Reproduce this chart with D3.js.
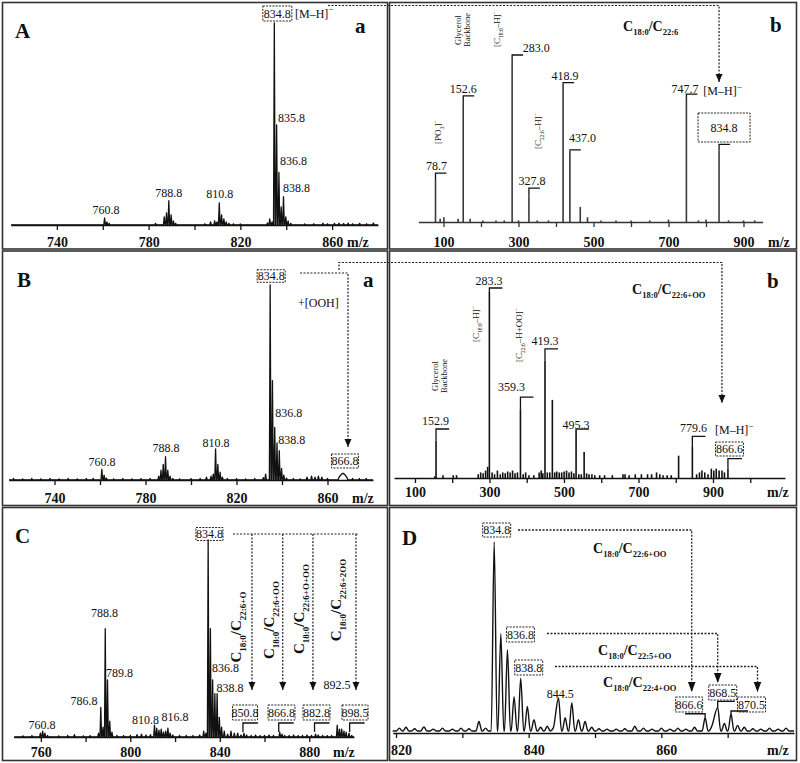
<!DOCTYPE html>
<html><head><meta charset="utf-8">
<script src="https://cdn.jsdelivr.net/npm/d3@7/dist/d3.min.js"></script>
<style>
html,body{margin:0;padding:0;background:#fff}
svg{display:block}
</style></head><body>
<script>
// ===================== DATA =====================
const ticksA = [740,760,780,800,820,840,860];
const tickLabelsA = [740,780,820,860];
const ticksAb = [100,200,300,400,500,600,700,800,900];
const ticksBb = [100,200,300,400,500,600,700,800,900,1000];
const tickLabelsMSMS = [100,300,500,700,900];
const ticksC = [760,780,800,820,840,860,880];
const tickLabelsC = [760,800,840,880];
const ticksD = [820,830,840,850,860,870];
const tickLabelsD = [820,840,860];

// spectra: [m/z, relative intensity %]
const peaksAa = [[760.8,3.5],[761.8,1.5],[762.8,0.8],[783.0,0.8],[786.8,4],[787.8,6],[788.8,12],[789.8,5],[790.8,2],[791.8,0.8],
 [804.5,0.6],[807.0,1.5],[808.8,2],[809.8,1.5],[810.8,11],[811.8,5],[812.8,3],[813.8,1.5],[815,0.8],[817,0.6],[820,0.5],
 [831.8,1],[832.8,3],[833.8,1.5],[834.8,100],[835.8,49.5],[836.8,26],[837.8,9],[838.8,14],[839.8,4],[840.8,2],[842,0.8],
 [848,0.5],[852,0.6],[856,0.9],[858,0.6],[861,0.8],[863,0.9],[865,0.7],[867,0.9],[869,0.6],[872,0.8],[875,0.6],[878,1]];
const peaksAb = [[78.7,26],[91,2],[101,3],[139,2],[152.6,75.5],[171,2],[205,1],[240,1],[262,1],[283.0,100],[300,1],
 [327.8,16],[350,1],[380,1],[418.9,87],[437.0,45],[464.7,9.5],[484,3],[520,1],[560,1],[600,1],[650,1],[700,1.5],
 [747.7,78.6],[780,1],[800,1.5],[834.8,45],[860,1],[900,1],[930,1]];
const peaksBa = [[722,0.8],[726,0.6],[730,0.8],[734,0.6],[738,0.8],[742,0.6],[746,0.8],[750,0.6],[754,0.7],[757,0.8],
 [760.8,5.5],[761.8,2.5],[762.8,1],[766,0.6],[770,0.7],[774,0.6],[778,0.7],[782,0.8],
 [785.8,2],[786.8,5],[787.8,8],[788.8,12],[789.8,5],[790.8,2],[792,0.8],[795,0.6],[800,0.7],[804,0.8],
 [806.8,1.5],[808.8,2],[809.8,3],[810.8,16],[811.8,8],[812.8,4],[813.8,1.5],[816,0.8],[820,0.7],[824,0.6],[828,0.8],
 [831.8,1.2],[832.8,3],[834.8,100],[835.8,51],[836.8,27],[837.8,19],[838.8,15],[839.8,6],[840.8,2.5],[842,1],
 [845,0.8],[848,0.6],[851,1.5],[853,2],[854.5,1.5],[856,2],[857.5,1.5],[860,0.8],
 [865.0,1.2],[865.6,2.2],[866.2,3.0],[866.8,3.5],[867.4,3.0],[868.0,2.2],[868.6,1.2],[871,0.8],[874,0.7],[877,0.8]];
const peaksBb = [[150,1],[152.9,20],[170,1.5],[195,1.5],[203,1.5],[256,2],[262,3],[268,2.5],[274,4],[279,6],[283.3,100],
 [290,3],[296,2],[303,4],[310,2],[316,3],[322,2.5],[328,3.5],[334,3],[340,4],[346,2.5],[352,3],[359.3,37],[366,2],[372,3],
 [380,1.5],[392,1.5],[405,3],[410,4],[414,2.5],[419.3,63],[425,3],[431,3],[437.3,42],[443,3],[448,3.5],[454,3],[460,3],
 [466,3.5],[472,4],[478,3],[484,3.5],[490,2.5],[495.3,26],[502,2],[508,2],[515,14],[521,2.5],[527,2],[534,2],[541,1.5],
 [553,1.5],[565,1.5],[584,1.5],[610,2],[615,2],[625,1.5],[640,2],[655,2],[670,2],[680,2],[692,3],[700,2],[708,1.5],
 [718,1.5],[728,1.5],[746,12],[779.6,17],[790,2],[797,3],[803,4],[810,3],[818,2],[826,5],[832,4],[838,5],[845,4],
 [852,4],[858,3],[866.6,5]];
const peaksC = [[752,0.6],[756,0.7],[759.8,2],[760.8,3],[761.8,2],[763,0.8],[768,0.6],[772,0.8],[775,1.2],[779,0.6],[782,0.7],
 [785.8,2],[786.8,15],[787.8,5],[788.8,55],[789.8,29],[790.8,8],[791.8,2.5],[794,0.8],[797,0.7],[800,0.8],[803,1.2],[805,1.5],
 [807,1],[809,1.2],[810.8,6],[811.8,4.5],[812.8,3.5],[813.8,4],[814.8,2.5],[815.8,3],[816.8,4.5],[817.8,2],[819,1],[822,0.8],
 [825,0.8],[828,0.7],[831,1],[832.8,3],[833.8,2],[834.8,100],[835.8,55],[836.8,29],[837.8,22],[838.8,22],[839.8,10],[840.8,5],
 [842,3],[843.5,1.5],[845,3],[846.5,2],[848,2],[849.5,1],[850.8,2],[852,1],[854,0.8],[856,1],[858,0.7],[860,0.8],[862,1],
 [864,0.8],[866.8,2.5],[867.8,1.5],[869,0.8],[871,0.8],[873,1],[875,0.7],[877,0.8],[879,1],[881,0.8],[882.8,1.5],[884,1],
 [886,0.8],[888,0.7],[890,0.8],[892.5,6],[893.5,4],[894.5,4],[895.5,3],[896.5,2.5],[897.8,2],[899,0.8]];
const peaksD = [[820.5,1.5],[821.5,2],[822.8,1.2],[824.2,2.2],[825.6,1],[827,1.5],[828.5,1],[829.8,1.5],[831,1.2],[832.5,5],
 [833.5,1.5],[834.8,100],[835.8,51.5],[836.8,43],[837.8,18],[838.8,28],[839.8,13],[840.8,6],[841.8,2],[842.8,2.5],[843.7,1.5],
 [844.5,17.5],[845.5,7],[846.5,15],[847.5,6],[848.5,5],[849.5,2],[850.6,1.2],[851.8,1],[853.2,1],[854.5,1.2],[856,2.5],
 [857.3,1.5],[858.6,1],[860,1.5],[861.3,1],[862.5,1.5],[863.7,1],[865,2],[866.6,7],[867.6,2.5],[868.5,12.5],[869.5,4],
 [870.5,9],[871.5,3],[872.5,2],[873.8,1.2],[875,1],[876.3,1.5],[877.6,1],[878.8,1.5]];

// ===================== HELPERS =====================
const F = '"Liberation Serif","Times New Roman",serif';
const svg = d3.select('body').append('svg').attr('width',800).attr('height',763);
const fmt = d3.format('.1f');
const I = (arr, mz) => arr.find(p => Math.abs(p[0]-mz) < 1e-6)[1];

function T(g, s, x, y, o = {}) {
  const size = o.size || 12, sub = o.sub || size*0.65;
  const t = g.append('text').attr('x', x).attr('y', y).attr('font-family', F)
    .attr('font-size', size).attr('font-weight', o.bold ? 'bold' : 'normal')
    .attr('text-anchor', o.anchor || 'start').attr('fill', '#111');
  if (o.rot) t.attr('transform', `rotate(-90,${x},${y})`);
  if (Array.isArray(s)) {
    let cur = 0;
    s.forEach(([str, k]) => {
      const off = k === 1 ? size*0.3 : k === 2 ? -size*0.42 : 0;
      t.append('tspan').attr('dy', off - cur).attr('font-size', k ? sub : size).text(str);
      cur = off;
    });
  } else t.text(s);
  return t;
}
const formula = (c22) => [['C',0],['18:0',1],['/',0],['C',0],[c22,1]];
const MH = [['[M–H]',0],['−',2]];

function box(g, s, cx, cy, w, h, size = 12) {
  g.append('rect').attr('x', cx - w/2).attr('y', cy - h/2).attr('width', w).attr('height', h)
    .attr('fill', 'none').attr('stroke', '#222').attr('stroke-width', 1).attr('stroke-dasharray', '2,1.2');
  T(g, s, cx, cy + size*0.34, {anchor: 'middle', size});
}
function bracket(g, x, yb, len, yEnd) {
  g.append('path').attr('d', `M${x+len},${yb}H${x}V${yEnd}`)
    .attr('fill', 'none').attr('stroke', '#111').attr('stroke-width', 1.3);
}
function connector(g, pts, hw = 3.5, hh = 8, sw = 1.2) {
  g.append('path').attr('d', d3.line()(pts)).attr('fill', 'none').attr('stroke', '#222')
    .attr('stroke-width', sw).attr('stroke-dasharray', '2,1.5');
  const [x, y] = pts[pts.length - 1];
  g.append('path').attr('d', `M${x-hw},${y-hh}L${x+hw},${y-hh}L${x},${y}Z`).attr('fill', '#111');
}
function axis(g, scale, y, ticks, labels, baseGap, mzX, dx = 0, color = '#111') {
  const ax = g.append('g').attr('transform', `translate(0,${y})`)
    .call(d3.axisBottom(scale).tickValues(ticks).tickSize(5).tickSizeOuter(0)
      .tickPadding(baseGap - 5 - 9.94).tickFormat(d => labels.includes(d) ? d : ''));
  ax.attr('font-family', F).attr('font-size', 14).attr('font-weight', 'bold');
  ax.select('.domain').attr('stroke', color).attr('stroke-width', 1.5);
  ax.selectAll('.tick line').attr('stroke', color).attr('stroke-width', 1.3);
  ax.selectAll('.tick text').attr('fill', '#111').attr('dx', dx);
  T(g, 'm/z', mzX, y + baseGap, {size: 14, bold: true});
}
function profile(g, peaks, x, y, w, lo, hi, curve, sw = 1.3) {
  const s = peaks.slice().sort((a, b) => a[0] - b[0]);
  const pts = [[lo, 0]];
  s.forEach((p, i) => {
    const prev = s[i-1], next = s[i+1];
    if (!prev || p[0] - prev[0] > 2*w) pts.push([p[0] - w, 0]);
    pts.push(p);
    if (!next || next[0] - p[0] > 2*w) pts.push([p[0] + w, 0]);
  });
  pts.push([hi, 0]);
  const clean = [];
  pts.forEach(p => { if (!clean.length || p[0] > clean[clean.length-1][0]) clean.push(p); });
  g.append('path').attr('d', d3.line().x(d => x(d[0])).y(d => y(d[1])).curve(curve)(clean))
    .attr('fill', 'none').attr('stroke', '#111').attr('stroke-width', sw).attr('stroke-linejoin', 'round');
}
function sticks(g, peaks, x, y, color, sw) {
  g.selectAll(null).data(peaks).enter().append('line')
    .attr('x1', d => x(d[0])).attr('x2', d => x(d[0]))
    .attr('y1', y(0)).attr('y2', d => y(d[1]))
    .attr('stroke', color).attr('stroke-width', sw);
}

// ===================== PANEL FRAMES =====================
const frames = svg.append('g');
[[2.5,2.5,385,246.5],[389.5,2.5,407,246.5],[2.5,251,385,254.5],[389.5,251,407,254.5],[2.5,507.5,385,253],[389.5,507.5,407,253]]
  .forEach(([x,y,w,h]) => frames.append('rect').attr('x',x).attr('y',y).attr('width',w).attr('height',h)
    .attr('fill','none').attr('stroke','#333').attr('stroke-width',1.6));

// ===================== A-a =====================
const gAa = svg.append('g');
const xAa = d3.scaleLinear([720, 880], [11, 378]);
const yAa = d3.scaleLinear([0, 100], [225, 23]);
profile(gAa, peaksAa, xAa, yAa, 0.35, 720, 880, d3.curveLinear);
axis(gAa, xAa, 225, ticksA, tickLabelsA, 22, 347);
T(gAa, 'A', 15, 38, {size: 21, bold: true});
T(gAa, 'a', 355, 33, {size: 21, bold: true});
box(gAa, '834.8', xAa(834.8) + 3, 13.5, 29, 15);
T(gAa, MH, 295, 17.5, {size: 12, sub: 9});
[[835.8, 1.5, -3, 'start'], [836.8, 1, -7.5, 'start'], [838.8, -0.5, -5, 'start'],
 [788.8, 0, -4, 'middle'], [810.8, 0.5, -5, 'middle'], [760.8, 1.5, -4, 'middle']]
 .forEach(([m, dx, dy, a]) => T(gAa, fmt(m), xAa(m) + dx, yAa(I(peaksAa, m)) + dy, {anchor: a}));

// ===================== A-b =====================
const gAb = svg.append('g');
const xAb = d3.scaleLinear([33, 951], [418.375, 762.625]);
const yAb = d3.scaleLinear([0, 100], [222, 63]);
sticks(gAb, peaksAb, xAb, yAb, '#3a3a3a', 1.6);
axis(gAb, xAb, 222, ticksAb, tickLabelsMSMS, 25, 768, 0, '#333');
T(gAb, 'b', 770, 32, {size: 21, bold: true});
T(gAb, formula('22:6'), 623, 30.5, {size: 14, bold: true, sub: 8.5});
[[78.7, 7.5, 1, 3.5], [152.6, 6, 0, 3], [283.0, 8, 24, 3], [327.8, 8.5, 3, 3.5],
 [418.9, 1, 2, 3], [437.0, 0.5, 12.5, 8], [747.7, 3, -1.5, 1.5]]
 .forEach(([m, gap, dx, tg]) => {
   const top = yAb(I(peaksAb, m)), yb = top - gap;
   bracket(gAb, xAb(m), yb, 11, top);
   T(gAb, fmt(m), xAb(m) + dx, yb - tg, {anchor: 'middle'});
 });
{ const top = yAb(I(peaksAb, 834.8));
  bracket(gAb, xAb(834.8), top - 6, 11, top);
  box(gAb, '834.8', xAb(834.8) + 5, 127.5, 52, 29);
  T(gAb, MH, xAb(834.8) + 3.5, 95, {anchor: 'middle', size: 12, sub: 9}); }
T(gAb, [['[PO',0],['3',1],[']',0],['−',2]], xAb(78.7) + 5.5, 132, {rot: true, anchor: 'middle', size: 9, sub: 6});
T(gAb, 'Glycerol', xAb(152.6) - 2.5, 30, {rot: true, anchor: 'middle', size: 8.5});
T(gAb, 'Backbone', xAb(152.6) + 6.5, 30, {rot: true, anchor: 'middle', size: 8.5});
T(gAb, [['[C',0],['18:0',1],['–H]',0],['−',2]], xAb(283.0) - 12, 29, {rot: true, anchor: 'middle', size: 9, sub: 5.5});
T(gAb, [['[C',0],['22:6',1],['–H]',0],['−',2]], xAb(327.8) + 12, 131, {rot: true, anchor: 'middle', size: 9, sub: 5.5});

// ===================== B-a =====================
const gBa = svg.append('g');
const xBa = d3.scaleLinear([720, 880], [9, 373]);
const yBa = d3.scaleLinear([0, 100], [480, 285]);
profile(gBa, peaksBa, xBa, yBa, 0.35, 720, 880, d3.curveLinear);
axis(gBa, xBa, 480, ticksA, tickLabelsA, 23, 352);
T(gBa, 'B', 17, 287, {size: 21, bold: true});
T(gBa, 'a', 363, 287, {size: 21, bold: true});
box(gBa, '834.8', xBa(834.8) + 1, 276, 28, 12.5);
box(gBa, '866.8', xBa(866.8) + 2, 461, 27, 14);
T(gBa, '+[OOH]', 298, 307);
[[836.8, 0.5, -10, 'start'], [838.8, -1, -7, 'start'], [788.8, 0.5, -4.5, 'middle'],
 [810.8, 0.5, -2, 'middle'], [760.8, 0.2, -3.5, 'middle']]
 .forEach(([m, dx, dy, a]) => T(gBa, fmt(m), xBa(m) + dx, yBa(I(peaksBa, m)) + dy, {anchor: a}));

// ===================== B-b =====================
const gBb = svg.append('g');
const xBb = d3.scaleLinear([100, 900], [414.4, 741.6]);          // spectrum positions
const xBbAxis = d3.scaleLinear([44, 1093], [394.1, 784.9]);      // axis as printed
const yBb = d3.scaleLinear([0, 100], [478, 292]);
sticks(gBb, peaksBb, xBb, yBb, '#111', 1.6);
axis(gBb, xBbAxis, 478, ticksBb, tickLabelsMSMS, 19, 767);
T(gBb, 'b', 767, 288, {size: 21, bold: true});
T(gBb, formula('22:6+OO'), 632, 294, {size: 14, bold: true, sub: 8.5});
[[152.9, 11.8, -0.5, 4], [283.3, 4, -0.4, 3.5], [359.3, 12, -9, 6], [419.3, 12, 0, 4],
 [495.3, 0.5, 0, 0.5], [779.6, 10, 1.2, 4.5]]
 .forEach(([m, gap, dx, tg]) => {
   const top = yBb(I(peaksBb, m)), yb = top - gap;
   bracket(gBb, xBb(m), yb, 13, top);
   T(gBb, fmt(m), xBb(m) + dx, yb - tg, {anchor: 'middle'});
 });
{ const top = yBb(I(peaksBb, 866.6));
  bracket(gBb, xBb(866.6), top - 10, 14, top);
  box(gBb, '866.6', xBb(866.6) + 1.6, 449, 28, 14);
  T(gBb, MH, 715, 434, {size: 12, sub: 9}); }
T(gBb, 'Glycerol', xBb(152.9) + 2, 376, {rot: true, anchor: 'middle', size: 8.5});
T(gBb, 'Backbone', xBb(152.9) + 11, 376, {rot: true, anchor: 'middle', size: 8.5});
T(gBb, [['[C',0],['18:0',1],['–H]',0],['−',2]], xBb(283.3) - 10.5, 324, {rot: true, anchor: 'middle', size: 9, sub: 5.5});
T(gBb, [['[C',0],['22:6',1],['–H+OO]',0],['−',2]], xBb(359.3) + 1.5, 335, {rot: true, anchor: 'middle', size: 9, sub: 5.5});

// ===================== C =====================
const gC = svg.append('g');
const xC = d3.scaleLinear([748, 900], [14, 354]);
const yC = d3.scaleLinear([0, 100], [737, 540]);
profile(gC, peaksC, xC, yC, 0.35, 748, 900, d3.curveLinear);
axis(gC, xC, 737, ticksC, tickLabelsC, 20, 333);
T(gC, 'C', 15, 543, {size: 21, bold: true});
box(gC, '834.8', xC(834.8) + 1.3, 534, 27, 13);
[[788.8, -0.8, 617, 'middle'], [789.8, -1.5, 677, 'start'], [786.8, -16.8, 705, 'middle'],
 [836.8, -0.7, 672, 'start'], [838.8, -0.7, 692, 'start'], [760.8, -0.6, 729, 'middle'],
 [810.8, -9, 724, 'middle'], [816.8, 7, 721, 'middle'], [892.5, -0.3, 689, 'middle']]
 .forEach(([m, dx, y, a]) => T(gC, fmt(m), xC(m) + dx, y, {anchor: a}));
{ gC.append('path').attr('d', 'M233,534H358').attr('stroke', '#222').attr('stroke-width', 1.2)
    .attr('stroke-dasharray', '2,1.5').attr('fill', 'none');
  const arrows = [[850.8, 8, 245, 25, '22:6+O', 241, 627], [866.8, 3, 281.5, 27, '22:6+OO', 274, 620],
                  [882.8, -2.6, 316.5, 27, '22:6+O+OO', 304, 609], [898.5, 5.3, 355, 26, '22:6+2OO', 341, 600]];
  arrows.forEach(([m, adx, bcx, bw, f, fx, fy]) => {
    connector(gC, [[xC(m) + adx, 534], [xC(m) + adx, 690]], 3.5, 8);
    box(gC, fmt(m), bcx, 712.5, bw, 15);
    bracket(gC, xC(m) - 1, 723, 15, 732);
    T(gC, formula(f), fx, fy, {rot: true, anchor: 'middle', size: 15, bold: true, sub: 9});
  });
}

// ===================== D =====================
const gD = svg.append('g');
const xD = d3.scaleLinear([819.5, 880], [392.7, 794]);
const yD = d3.scaleLinear([0, 100], [731, 542]);
profile(gD, peaksD, xD, yD, 0.45, 819.5, 880, d3.curveMonotoneX, 1.4);
axis(gD, xD, 733, ticksD, tickLabelsD, 22, 767, 5);
T(gD, 'D', 402, 545, {size: 21, bold: true});
box(gD, '834.8', xD(834.8) + 2.5, 530, 28, 14);
box(gD, '836.8', xD(836.8) + 13, 634.5, 28, 15);
box(gD, '838.8', xD(838.8) + 8, 667.5, 28, 15);
box(gD, '866.6', xD(866.6) - 16, 704.5, 27, 15);
box(gD, '868.5', xD(868.5) + 5, 692.5, 28, 15);
box(gD, '870.5', xD(870.5) + 20.5, 704.5, 28, 15);
connector(gD, [[518, 530], [xD(866.6) - 13.4, 530], [xD(866.6) - 13.4, 692]], 3.8, 10, 1.3);
connector(gD, [[547, 633.5], [xD(868.5), 633.5], [xD(868.5), 683]], 3.8, 10, 1.3);
connector(gD, [[555, 666.5], [xD(870.5) + 26.5, 666.5], [xD(870.5) + 26.5, 692]], 3.8, 10, 1.3);
{ const t1 = yD(I(peaksD, 866.6)), t2 = yD(I(peaksD, 868.5)), t3 = yD(I(peaksD, 870.5));
  gD.append('path').attr('d', `M${xD(866.6)-20},${t1-4}H${xD(866.6)}V${t1}`).attr('fill','none').attr('stroke','#111').attr('stroke-width',1.3);
  bracket(gD, xD(868.5), t2 - 6, 17, t2);
  bracket(gD, xD(870.5), t3 - 3, 17, t3); }
T(gD, '844.5', xD(844.5) + 1.7, 698, {anchor: 'middle'});
T(gD, formula('22:6+OO'), 593, 553, {size: 14, bold: true, sub: 8.5});
T(gD, formula('22:5+OO'), 598, 655, {size: 14, bold: true, sub: 8.5});
T(gD, formula('22:4+OO'), 603, 687, {size: 14, bold: true, sub: 8.5});

// ===================== cross-panel connectors =====================
connector(svg, [[328, 5.5], [xAb(834.8), 5.5], [xAb(834.8), 82]], 3.5, 8);
connector(svg, [[300, 273], [348, 273], [348, 447]], 3.5, 8);
connector(svg, [[339, 270], [339, 262.5], [xBb(866.6) - 6, 262.5], [xBb(866.6) - 6, 403]], 3.5, 8);
</script>
</body></html>
